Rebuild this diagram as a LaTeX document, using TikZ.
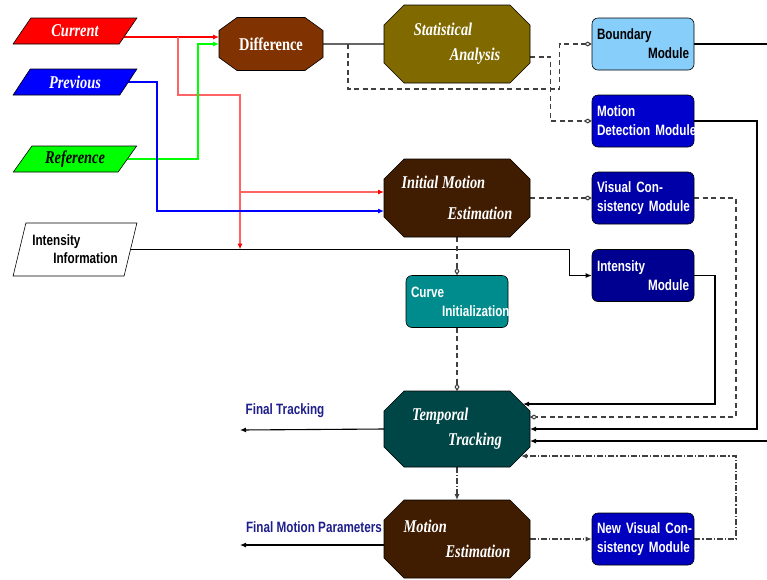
\documentclass[tikz,border=0pt]{standalone}
\usepackage{fontspec}
\newfontfamily\figserif{Liberation Serif}[FakeStretch=0.8]
\newfontfamily\figsans{Liberation Sans}[FakeStretch=0.78]
\usetikzlibrary{shapes.geometric,arrows.meta,calc,backgrounds}

\definecolor{diffbrown}{RGB}{128,51,0}
\definecolor{statolive}{RGB}{128,106,0}
\definecolor{motbrown}{RGB}{64,28,0}
\definecolor{trackteal}{RGB}{0,70,70}
\definecolor{curveteal}{RGB}{0,140,140}
\definecolor{bndblue}{RGB}{135,206,250}
\definecolor{mdblue}{RGB}{0,0,204}
\definecolor{vcblue}{RGB}{0,0,168}
\definecolor{imblue}{RGB}{0,0,144}
\definecolor{nvcblue}{RGB}{0,0,190}
\definecolor{labnavy}{RGB}{30,30,140}
\definecolor{redlight}{RGB}{255,100,100}

\pgfdeclarelayer{mid}
\pgfsetlayers{background,mid,main}

\tikzset{
  octa/.style={rectangle, outer sep=0pt, minimum width=146pt, minimum height=78pt, inner sep=0pt,
    text=white, align=left, font=\figserif\bfseries\itshape\fontsize{18}{25}\selectfont},
  modbox/.style={rectangle, rounded corners=6pt, draw=black, line width=0.6pt,
    minimum width=102pt, minimum height=52pt, inner xsep=5pt, inner ysep=0pt,
    text width=92pt, align=left, text=white, font=\figsans\bfseries\fontsize{15}{19}\selectfont},
  inbox/.style={trapezium, trapezium stretches=true, trapezium left angle=52, trapezium right angle=128,
    draw=black, line width=0.6pt, minimum width=124pt, minimum height=26pt, inner sep=0pt,
    font=\figserif\bfseries\itshape\fontsize{18}{22}\selectfont},
  lab/.style={inner sep=0pt, text=labnavy, font=\figsans\bfseries\fontsize{15}{18}\selectfont},
  blackline/.style={line width=1.1pt, black},
  grayline/.style={line width=1.1pt, black!60},
  dashline/.style={line width=1.1pt, black!75, dash pattern=on 5pt off 3.5pt},
  dotline/.style={line width=1.1pt, black!75, dash pattern=on 6pt off 2pt on 1.2pt off 2pt},
  filltip/.style={-{Latex[length=6pt,width=5pt]}},
  opentip/.style={-{Diamond[open,length=8pt,width=5pt]}}
}

% octagon behind a node: name, fill, x chamfer, y chamfer
\newcommand{\octshape}[4]{%
  \begin{pgfonlayer}{mid}
  \filldraw[fill=#2, draw=black, line width=0.6pt]
    ($(#1.north west)+(#3,0)$) -- ($(#1.north east)+(-#3,0)$) -- ($(#1.north east)+(0,#4)$)
    -- ($(#1.south east)+(0,-#4)$) -- ($(#1.south east)+(-#3,0)$) -- ($(#1.south west)+(#3,0)$)
    -- ($(#1.south west)+(0,-#4)$) -- ($(#1.north west)+(0,#4)$) -- cycle;
  \end{pgfonlayer}}

\begin{document}
\begin{tikzpicture}[x=1pt, y=-1pt]
\useasboundingbox (0,0) rectangle (767,579);

% inputs
\node[inbox, fill=red, text=white] (cur) at (75,31) {Current};
\node[inbox, fill=blue, text=white] (prev) at (75,82) {Previous};
\node[inbox, fill=green, text=black] (ref) at (75,159) {Reference};
\node[inbox, trapezium left angle=69, trapezium right angle=111, minimum height=53pt, fill=white,
  align=left, font=\figsans\bfseries\fontsize{15}{18}\selectfont] (inten) at (75,249.5)
  {Intensity\\\hspace*{21pt}Information};

% processing stages
\node[octa, minimum width=104pt, minimum height=53pt,
  font=\figserif\bfseries\fontsize{18}{22}\selectfont] (dif) at (271,44) {Difference};
\octshape{dif}{diffbrown}{18}{13}
\node[octa] (stat) at (457,44) {Statistical\\\hspace*{36pt}Analysis};
\octshape{stat}{statolive}{20}{20}
\node[octa, font=\figserif\bfseries\itshape\fontsize{18}{31}\selectfont] (ime) at (457,198)
  {Initial Motion\\\hspace*{46pt}Estimation};
\octshape{ime}{motbrown}{20}{20}
\node[octa, minimum height=76pt] (tt) at (457,429) {Temporal\\\hspace*{36pt}Tracking};
\octshape{tt}{trackteal}{20}{20}
\node[octa] (me) at (457,539) {Motion\\\hspace*{42pt}Estimation};
\octshape{me}{motbrown}{20}{20}

% modules
\node[modbox, fill=bndblue, text=black] (bnd) at (643,44) {Boundary\\\hspace*{\fill}Module};
\node[modbox, fill=mdblue] (mdm) at (643,121) {Motion\\\mbox{Detection Module}};
\node[modbox, fill=vcblue] (vcm) at (643,198) {\mbox{Visual Con-}\\\mbox{sistency Module}};
\node[modbox, fill=imblue] (imod) at (643,275.5) {Intensity\\\hspace*{\fill}Module};
\node[modbox, fill=curveteal] (cinit) at (457,301.5) {Curve\\\hspace*{31pt}\mbox{Initialization}};
\node[modbox, fill=nvcblue] (nvc) at (643,539) {\mbox{New Visual Con-}\\\mbox{sistency Module}};

% outputs
\node[lab] (ftl) at (285,411) {Final Tracking};
\node[lab] (fmpl) at (314,527) {Final Motion Parameters};
\coordinate (ftend) at (240,430);
\coordinate (fmpend) at (240,545);
\coordinate (bndout) at (767,44);
\coordinate (ttin) at (767,441);
\coordinate (redend) at (240,249.5);

\begin{scope}[on background layer]
  % coloured inputs
  \coordinate (redin) at ([yshift=7pt]dif.west);
  \coordinate (rtap) at ($(redin)+(-41,0)$);
  \draw[line width=1.1pt, red, filltip] (cur.center |- redin) -- (redin);
  \draw[line width=1.1pt, redlight, -{Latex[length=6pt,width=5pt,red]}] (rtap) -- ++(0,58) -| (redend);
  \draw[line width=1.1pt, redlight, -{Latex[length=6pt,width=5pt,red]}] ($(ime.west)+(-144,-6)$) -- ($(ime.west)+(0,-6)$);
  \draw[line width=1.1pt, green, filltip] (ref.center) -| ($(dif.west)+(-21,0)$) -- (dif.west);
  \draw[line width=1.1pt, blue, filltip] (prev.center) -| ($(ime.west)+(-227,13)$) -- ($(ime.west)+(0,13)$);
  \draw[blackline, filltip] (inten.center) -| ($(imod.west)+(-22,0)$) -- (imod.west);

  % statistics
  \draw[grayline] (dif.east) -- (stat.west);
  \coordinate (dtap) at ($(dif.east)+(25,0)$);
  \draw[dashline, opentip] (dtap) -- ++(0,45) -| ($(bnd.west)+(-32,0)$) -- (bnd.west);
  \draw[dashline, opentip] ($(stat.east)+(0,13)$) -| ($(mdm.west)+(-41,0)$) -- (mdm.west);
  \draw[blackline] (bnd.east) -- (bndout);

  % feeding temporal tracking
  \draw[blackline, filltip] (mdm.east) -| ($(tt.east)+(227,0)$) -- (tt.east);
  \draw[dashline, opentip] (ime.east) -- (vcm.west);
  \draw[dashline, opentip] (vcm.east) -| ($(tt.east)+(206,-12)$) -- ($(tt.east)+(0,-12)$);
  \draw[blackline, filltip] (imod.east) -| ($(tt.east)+(185,-25)$) -- ($(tt.east)+(-7,-25)$);
  \draw[blackline, filltip] (ttin) -- ($(tt.east)+(0,12)$);
  \draw[dotline, filltip] (nvc.east) -| ($(tt.east)+(206,27)$) -- ($(tt.east)+(-9,27)$);

  % vertical chain
  \draw[dashline, opentip] (ime.south) -- (cinit.north);
  \draw[dashline, opentip] (cinit.south) -- (tt.north);
  \draw[dotline, filltip] (tt.south) -- (me.north);
  \draw[dotline, filltip] (me.east) -- (nvc.west);

  % results
  \draw[blackline, filltip] (tt.west) -- (ftend);
  \draw[blackline, filltip] ($(me.west)+(0,6)$) -- (fmpend);
\end{scope}
\end{tikzpicture}
\end{document}
